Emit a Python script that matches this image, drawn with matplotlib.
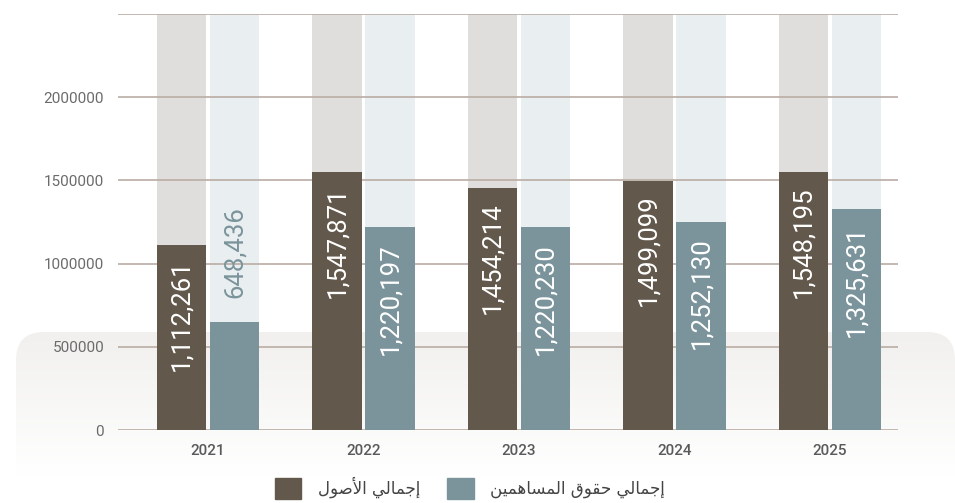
import numpy as np
import matplotlib
matplotlib.use("Agg")
import matplotlib.pyplot as plt
from matplotlib.patches import FancyBboxPatch, Patch

# ---- data ----
years = ["2021", "2022", "2023", "2024", "2025"]
total_assets = [1112261, 1547871, 1454214, 1499099, 1548195]
shareholders_equity = [648436, 1220197, 1220230, 1252130, 1325631]
y_ticks = [0, 500000, 1000000, 1500000, 2000000, 2500000]
legend_labels = ["إجمالي الأصول", "إجمالي حقوق المساهمين"]

# ---- colours ----
c_assets = "#62584b"
c_equity = "#7b949b"
c_assets_bg = "#e0dedc"
c_equity_bg = "#e9eef0"
c_grid = "#b9ada4"


# minimal arabic shaping (matplotlib has no bidi / joining support)
FORMS = {  # isolated, final, initial, medial
    "ا": ("\uFE8D", "\uFE8E", None, None),
    "أ": ("\uFE83", "\uFE84", None, None),
    "إ": ("\uFE87", "\uFE88", None, None),
    "و": ("\uFEED", "\uFEEE", None, None),
    "ج": ("\uFE9D", "\uFE9E", "\uFE9F", "\uFEA0"),
    "ح": ("\uFEA1", "\uFEA2", "\uFEA3", "\uFEA4"),
    "س": ("\uFEB1", "\uFEB2", "\uFEB3", "\uFEB4"),
    "ص": ("\uFEB9", "\uFEBA", "\uFEBB", "\uFEBC"),
    "ق": ("\uFED5", "\uFED6", "\uFED7", "\uFED8"),
    "ل": ("\uFEDD", "\uFEDE", "\uFEDF", "\uFEE0"),
    "م": ("\uFEE1", "\uFEE2", "\uFEE3", "\uFEE4"),
    "ن": ("\uFEE5", "\uFEE6", "\uFEE7", "\uFEE8"),
    "ه": ("\uFEE9", "\uFEEA", "\uFEEB", "\uFEEC"),
    "ي": ("\uFEF1", "\uFEF2", "\uFEF3", "\uFEF4"),
}
LAM_ALEF = {"ا": ("\uFEFB", "\uFEFC"), "أ": ("\uFEF7", "\uFEF8"), "إ": ("\uFEF9", "\uFEFA")}


def shape(text):
    out = []
    i = 0
    prev_joins = False
    while i < len(text):
        ch = text[i]
        if ch not in FORMS:
            out.append(ch)
            prev_joins = False
            i += 1
            continue
        nxt = text[i + 1] if i + 1 < len(text) else ""
        if ch == "ل" and nxt in LAM_ALEF:
            out.append(LAM_ALEF[nxt][1 if prev_joins else 0])
            prev_joins = False
            i += 2
            continue
        iso, fin, ini, med = FORMS[ch]
        next_ok = ini is not None and nxt in FORMS
        if prev_joins and next_ok:
            out.append(med)
        elif prev_joins:
            out.append(fin)
        elif next_ok:
            out.append(ini)
        else:
            out.append(iso)
        prev_joins = ini is not None
        i += 1
    return "".join(reversed(out))


plt.rcParams["font.family"] = ["Roboto", "DejaVu Sans"]

fig = plt.figure(figsize=(9.55, 5.03), dpi=100)

# soft rounded panel behind the lower part
bg_ax = fig.add_axes([0, 0, 1, 1], zorder=-5)
bg_ax.set_xlim(0, 955)
bg_ax.set_ylim(503, 0)
bg_ax.axis("off")
grad = np.linspace(0, 1, 256).reshape(-1, 1)
im = bg_ax.imshow(grad, extent=[0, 955, 475, 332], cmap=matplotlib.colors.LinearSegmentedColormap.from_list(
    "g", ["#f1f0ee", "#ffffff"]), aspect="auto", interpolation="bilinear")
panel = FancyBboxPatch((16 + 28, 332 + 28), 955 - 16 - 56, 200,
                       boxstyle="round,pad=28", transform=bg_ax.transData,
                       facecolor="none", edgecolor="none")
bg_ax.add_patch(panel)
im.set_clip_path(panel)

ax = fig.add_axes([118 / 955, 73 / 503, 780 / 955, 416 / 503])
ax.patch.set_alpha(0)

x = np.arange(len(years))
w = 0.32
off = 0.17
top = y_ticks[-1]

ax.bar(x - off, [top] * len(x), w, color=c_assets_bg, zorder=1)
ax.bar(x + off, [top] * len(x), w, color=c_equity_bg, zorder=1)
ax.bar(x - off, total_assets, w, color=c_assets, zorder=3)
ax.bar(x + off, shareholders_equity, w, color=c_equity, zorder=3)

lbl_size = 18.5
for xi, v in zip(x - off, total_assets):
    ax.annotate(f"{v:,}", (xi, v), xytext=(0, -14), textcoords="offset pixels",
                rotation=90, ha="center", va="top", color="white", fontsize=lbl_size, zorder=4)
for xi, v in zip(x + off, shareholders_equity):
    if v > 800000:
        ax.annotate(f"{v:,}", (xi, v), xytext=(0, -16), textcoords="offset pixels",
                    rotation=90, ha="center", va="top", color="white", fontsize=lbl_size, zorder=4)
    else:
        ax.annotate(f"{v:,}", (xi, v), xytext=(0, 24), textcoords="offset pixels",
                    rotation=90, ha="center", va="bottom", color=c_equity, fontsize=lbl_size, zorder=4)

ax.set_ylim(0, top)
ax.set_xlim(-0.579, 4.437)
ax.set_yticks(y_ticks[:-1])
ax.set_yticklabels([str(t) for t in y_ticks[:-1]])
ax.set_xticks(x)
ax.set_xticklabels(years, fontweight="medium")
for t in y_ticks:
    ax.axhline(t, color=c_grid, lw=1.2, zorder=2)
for s in ax.spines.values():
    s.set_visible(False)
ax.tick_params(axis="y", length=0, pad=10, labelsize=11, labelcolor="#6b6b6b")
ax.tick_params(axis="x", length=0, pad=10, labelsize=11, labelcolor="#5a5a5a")

handles = [Patch(color=c_assets), Patch(color=c_equity)]
fig.legend(handles, [shape(t) for t in legend_labels], ncol=2, loc="center",
           bbox_to_anchor=(470 / 955, 1 - 488 / 503), frameon=False,
           handlelength=1.6, handleheight=1.6, columnspacing=1.6, handletextpad=1.0,
           prop={"family": "DejaVu Sans", "size": 12}, labelcolor="#444444")

fig.savefig("out.png", dpi=100)
